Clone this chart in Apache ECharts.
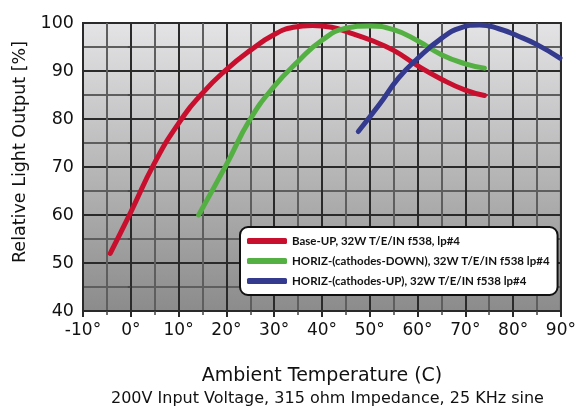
<!DOCTYPE html>
<html>
<head>
<meta charset="utf-8">
<script src="https://cdn.jsdelivr.net/npm/echarts@6/dist/echarts.min.js"></script>
<style>
  html, body { margin: 0; padding: 0; background: #fff; }
  #chart { width: 579px; height: 409px; }
</style>
</head>
<body>
<div id="chart"></div>
<script>
// series names
const seriesNames = [
  'Base-UP, 32W T/E/IN f538, lp#4',
  'HORIZ-(cathodes-DOWN), 32W T/E/IN f538 lp#4',
  'HORIZ-(cathodes-UP), 32W T/E/IN f538 lp#4'
]
const seriesColors = ['#c8102e', '#55b043', '#343b8f']

// values (temperature C, relative output %)
const redX = [-4.3, 0, 5, 10, 15, 20, 25, 30, 34, 38, 42, 46, 50, 55, 60, 65, 70, 74]
const redY = [52.0, 60.6, 70.9, 79.1, 85.4, 90.3, 94.3, 97.6, 99.1, 99.5, 99.1, 97.9, 96.5, 94.3, 91.1, 88.3, 86.0, 84.9]

const greenX = [14.2, 20, 25, 30, 35, 40, 45, 50, 55, 60, 65, 70, 74]
const greenY = [60.0, 70.5, 80.0, 86.8, 92.0, 96.4, 98.9, 99.4, 98.6, 96.3, 93.4, 91.5, 90.6]

const blueX = [47.6, 52, 56, 60, 65, 69, 73, 77, 81, 85, 89.8]
const blueY = [77.4, 83.0, 88.5, 92.6, 96.8, 99.0, 99.6, 98.8, 97.3, 95.5, 92.7]

const xTicks = { min: -10, max: 90, step: 10 }
const yTicks = { min: 40, max: 100, step: 10 }

const toPairs = (xs, ys) => xs.map((x, i) => [x, ys[i]])
const allX = [redX, greenX, blueX]
const allY = [redY, greenY, blueY]

const chart = echarts.init(document.getElementById('chart'))

const font = '"DejaVu Sans", sans-serif'

const option = {
  animation: false,
  title: {
    text: '200V Input Voltage, 315 ohm Impedance, 25 KHz sine',
    left: 106,
    bottom: -3,
    textStyle: { fontFamily: font, fontSize: 16, fontWeight: 'normal', color: '#111' }
  },
  legend: {
    orient: 'vertical',
    left: 240,
    top: 227,
    data: seriesNames,
    backgroundColor: '#fff',
    borderColor: '#111',
    borderWidth: 2,
    borderRadius: 8,
    padding: [7, 8, 7, 7],
    itemWidth: 40,
    itemHeight: 6,
    itemGap: 6,
    icon: 'roundRect',
    textStyle: {
      fontFamily: 'Lato, sans-serif',
      fontWeight: 'bold',
      fontSize: 11.5,
      lineHeight: 14,
      color: '#111'
    }
  },
  grid: {
    left: 83,
    right: 13,
    top: 23,
    bottom: 98,
    show: true,
    borderColor: '#2a2a2a',
    borderWidth: 2,
    backgroundColor: new echarts.graphic.LinearGradient(0, 0, 0, 1, [
      { offset: 0, color: '#e4e4e6' },
      { offset: 1, color: '#8b8b8b' }
    ])
  },
  xAxis: {
    type: 'value',
    min: xTicks.min,
    max: xTicks.max,
    interval: xTicks.step,
    name: 'Ambient Temperature (C)',
    nameLocation: 'middle',
    nameGap: 56,
    nameTextStyle: { fontFamily: font, fontSize: 19, color: '#111' },
    axisLine: { show: true, lineStyle: { color: '#2a2a2a', width: 2 } },
    axisTick: { show: true, length: 6, lineStyle: { color: '#2a2a2a', width: 2 } },
    minorTick: { show: true, splitNumber: 2, length: 4, lineStyle: { color: '#444', width: 1.5 } },
    axisLabel: {
      fontFamily: font, fontSize: 17, color: '#111', margin: 11,
      formatter: v => v + '°'
    },
    splitLine: { show: true, lineStyle: { color: '#2a2a2a', width: 2 } },
    minorSplitLine: { show: true, lineStyle: { color: '#5e5e5e', width: 2 } }
  },
  yAxis: {
    type: 'value',
    min: yTicks.min,
    max: yTicks.max,
    interval: yTicks.step,
    name: 'Relative Light Output [%]',
    nameLocation: 'middle',
    nameGap: 47,
    nameTextStyle: { fontFamily: font, fontSize: 17.5, color: '#111', padding: [0, 0, 0, 30] },
    axisLine: { show: true, lineStyle: { color: '#2a2a2a', width: 2 } },
    axisTick: { show: true, length: 6, lineStyle: { color: '#2a2a2a', width: 2 } },
    minorTick: { show: true, splitNumber: 2, length: 3, lineStyle: { color: '#444', width: 1.5 } },
    axisLabel: { fontFamily: font, fontSize: 17.5, color: '#111', margin: 9 },
    splitLine: { show: true, lineStyle: { color: '#2a2a2a', width: 2 } },
    minorSplitLine: { show: true, lineStyle: { color: '#5e5e5e', width: 2 } }
  },
  series: seriesNames.map((name, i) => ({
    name: name,
    type: 'line',
    smooth: 0.5,
    showSymbol: false,
    color: seriesColors[i],
    lineStyle: { width: 5, cap: 'round', join: 'round' },
    data: toPairs(allX[i], allY[i])
  }))
}

chart.setOption(option)
</script>
</body>
</html>
